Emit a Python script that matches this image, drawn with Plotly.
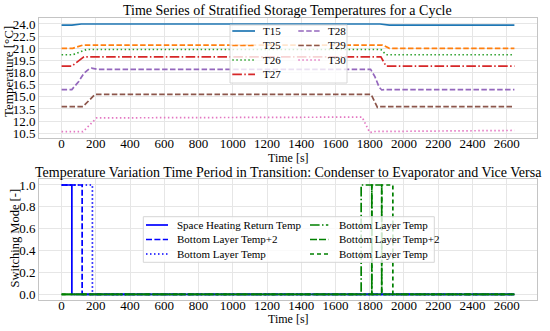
import plotly.graph_objects as go
from plotly.subplots import make_subplots

# ---------------- data (top: stratified storage temperatures) ----------------
t_T15 = [0, 60, 115, 1860, 1915, 2645]
T15 = [23.85, 23.85, 24.0, 24.0, 23.85, 23.85]

t_T25 = [0, 65, 125, 1875, 1915, 2645]
T25 = [21.0, 21.0, 21.4, 21.4, 21.0, 21.0]

t_T26 = [0, 65, 145, 1865, 1895, 2645]
T26 = [20.2, 20.2, 20.85, 20.85, 20.2, 20.2]

t_T27 = [0, 60, 130, 1865, 1895, 2645]
T27 = [18.8, 18.8, 19.95, 19.95, 18.8, 18.8]

t_T28 = [0, 60, 100, 130, 160, 175, 210, 1805, 1830, 1855, 1870, 1890, 2645]
T28 = [15.9, 15.9, 16.9, 17.9, 18.45, 18.55, 18.4, 18.4, 17.5, 16.2, 15.85, 15.9, 15.9]

t_T29 = [0, 125, 195, 1808, 1845, 1860, 2645]
T29 = [13.8, 13.8, 15.3, 15.3, 13.7, 13.8, 13.8]

t_T30 = [0, 125, 205, 1000, 1755, 1800, 1830, 2645]
T30 = [10.7, 10.7, 12.4, 12.45, 12.5, 10.6, 10.72, 10.85]

# ---------------- data (bottom: switching mode) ----------------
t_sh_return = [0, 60, 60, 2645]
sw_sh_return = [1, 1, 0, 0]
t_bottom_plus2_c = [0, 120, 120, 2645]
sw_bottom_plus2_c = [1, 1, 0, 0]
t_bottom_c = [0, 180, 180, 2645]
sw_bottom_c = [1, 1, 0, 0]

t_bottom_e1 = [0, 1750, 1750, 1812, 1812, 2645]
sw_bottom_e1 = [0, 0, 1, 1, 0, 0]
t_bottom_plus2_e = [0, 1812, 1812, 1870, 1870, 2645]
sw_bottom_plus2_e = [0, 0, 1, 1, 0, 0]
t_bottom_e2 = [0, 1870, 1870, 1935, 1935, 2645]
sw_bottom_e2 = [0, 0, 1, 1, 0, 0]

x_ticks = list(range(0, 2601, 200))
top_y_ticks = [10.5, 12.0, 13.5, 15.0, 16.5, 18.0, 19.5, 21.0, 22.5, 24.0]
bot_y_ticks = [0.0, 0.2, 0.4, 0.6, 0.8, 1.0]

# ---------------- styles ----------------
FONT = "Liberation Serif"
DASHED = "5.5px,2.4px"
DOTTED = "1.5px,2.5px"
DASHDOT = "9.6px,2.4px,1.5px,2.4px"

top_series = [
    ("T15", t_T15, T15, "#1f77b4", "solid"),
    ("T25", t_T25, T25, "#ff7f0e", DASHED),
    ("T26", t_T26, T26, "#2ca02c", DOTTED),
    ("T27", t_T27, T27, "#d62728", DASHDOT),
    ("T28", t_T28, T28, "#9467bd", DASHED),
    ("T29", t_T29, T29, "#8c564b", DASHED),
    ("T30", t_T30, T30, "#e377c2", DOTTED),
]

bot_series = [
    ("Space Heating Return Temp", t_sh_return, sw_sh_return, "#0000ff", "solid"),
    ("Bottom Layer Temp+2", t_bottom_plus2_c, sw_bottom_plus2_c, "#0000ff", "6px,2.4px"),
    ("Bottom Layer Temp", t_bottom_c, sw_bottom_c, "#0000ff", DOTTED),
    ("Bottom Layer Temp", t_bottom_e1, sw_bottom_e1, "#008000", DASHDOT),
    ("Bottom Layer Temp+2", t_bottom_plus2_e, sw_bottom_plus2_e, "#008000", "7px,2px"),
    ("Bottom Layer Temp", t_bottom_e2, sw_bottom_e2, "#008000", "4px,3px"),
]

LW = 1.7

fig = make_subplots(rows=2, cols=1)

for name, t, v, c, d in top_series:
    fig.add_trace(go.Scatter(x=t, y=v, mode="lines", name=name, showlegend=False,
                             line=dict(color=c, dash=d, width=LW)), row=1, col=1)
for name, t, v, c, d in bot_series:
    fig.add_trace(go.Scatter(x=t, y=v, mode="lines", name=name, showlegend=False,
                             line=dict(color=c, dash=d, width=LW)), row=2, col=1)

# ---------------- layout geometry ----------------
W, H = 550, 331
ML, MR, MT, MB = 39, 13, 18, 31
PW, PH = W - ML - MR, H - MT - MB


def px(xs):
    """window x pixel -> paper fraction"""
    return (xs - ML) / PW


def py(ys):
    """window y pixel -> paper fraction"""
    return (H - MB - ys) / PH


axis_common = dict(showline=True, mirror=True, linecolor="#c4c4c4", linewidth=1,
                   gridcolor="#e6e6e6", gridwidth=1, zeroline=False, ticks="", ticklen=0,
                   tickfont=dict(family=FONT, size=13, color="black"))

fig.update_xaxes(**axis_common, range=[-132, 2777], tickvals=x_ticks, ticklabelstandoff=-7)
fig.update_yaxes(**axis_common)
fig.update_yaxes(range=[9.88, 24.74], tickvals=top_y_ticks, tickformat=".1f", row=1, col=1)
fig.update_yaxes(range=[-0.052, 1.052], tickvals=bot_y_ticks, tickformat=".1f", row=2, col=1)

fig.update_layout(
    width=W, height=H,
    margin=dict(l=ML, r=MR, t=MT, b=MB),
    paper_bgcolor="white", plot_bgcolor="white",
    showlegend=False,
    font=dict(family=FONT, color="black"),
    xaxis=dict(domain=[0, 1]), xaxis2=dict(domain=[0, 1]),
    yaxis=dict(domain=[py(138.3), 1.0]),
    yaxis2=dict(domain=[0.0, py(179.3)]),
)


def label(text, xs, ys, size, angle=0, xanchor="center"):
    fig.add_annotation(text=text, xref="paper", yref="paper", x=px(xs), y=py(ys),
                       xanchor=xanchor, yanchor="middle", showarrow=False, textangle=angle,
                       borderpad=0,
                       font=dict(family=FONT, size=size, color="black"))


# titles
label("Time Series of Stratified Storage Temperatures for a Cycle", 287, 11, 14)
label("Temperature Variation Time Period in Transition: Condenser to Evaporator and Vice Versa",
      288, 172, 14)
# axis titles
label("Time [s]", 288, 158, 12)
label("Time [s]", 288, 318.5, 12)
label("Temperature [°C]", 8, 72, 13, angle=-90)
label("Switching Mode [-]", 14, 238.5, 12.5, angle=-90)


# ---------------- legends (two columns, matplotlib-like) ----------------
def draw_legend(box, columns, rows_y):
    x0, y0, x1, y1 = box
    fig.add_shape(type="rect", xref="paper", yref="paper",
                  x0=px(x0), x1=px(x1), y0=py(y1), y1=py(y0),
                  fillcolor="rgba(255,255,255,0.8)", line=dict(color="#d6d6d6", width=1),
                  layer="above")
    for (sx0, sx1, tx), entries in columns:
        for (name, c, d), yy in zip(entries, rows_y):
            fig.add_shape(type="line", xref="paper", yref="paper",
                          x0=px(sx0), x1=px(sx1), y0=py(yy), y1=py(yy),
                          line=dict(color=c, dash=d, width=LW), layer="above")
            label(name, tx, yy, 11, xanchor="left")


top_entries = [(s[0], s[3], s[4]) for s in top_series]
draw_legend((230, 25, 347, 83),
            [((232.3, 255, 261.7), top_entries[:4]), ((298.3, 320, 326.7), top_entries[4:])],
            [31, 45.5, 60, 74.3])

bot_entries = [(s[0], s[3], s[4]) for s in bot_series]
draw_legend((143.3, 216.7, 434.3, 262.3),
            [((146, 168, 175.7), bot_entries[:3]), ((310, 328.3, 338.3), bot_entries[3:])],
            [225, 239.5, 254])

# remove the default page margin so the figure fills the 550x331 window exactly
fig.write_html("out.html",
               config={"displayModeBar": False},
               post_script="document.body.style.margin='0';document.body.style.overflow='hidden';")
